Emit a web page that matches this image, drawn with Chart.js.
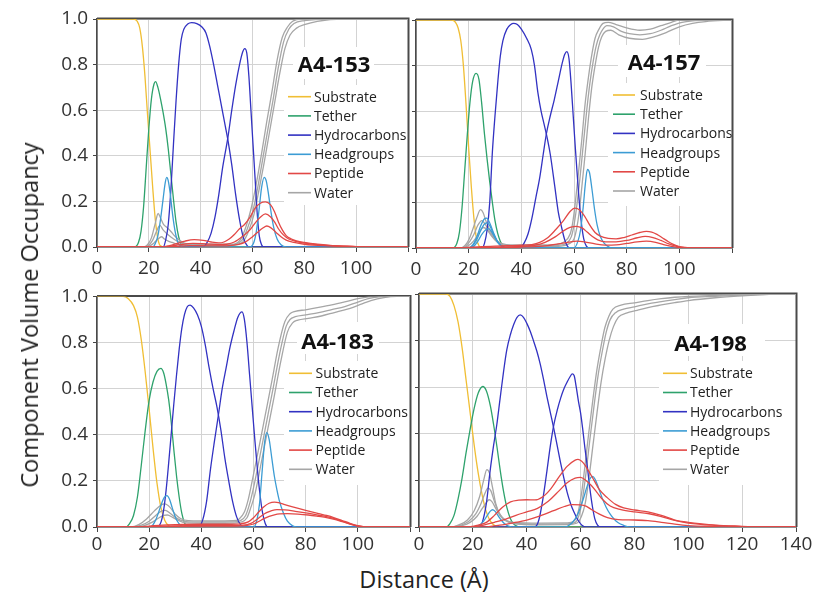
<!DOCTYPE html>
<html>
<head>
<meta charset="utf-8">
<script src="https://cdn.jsdelivr.net/npm/chart.js@4.4.1/dist/chart.umd.min.js"></script>
<style>
  body { margin: 0; width: 816px; height: 595px; background: #fff; position: relative; overflow: hidden; font-family: "Open Sans", sans-serif; }
  canvas { position: absolute; }
  .ytitle { position: absolute; left: 29px; top: 315px; transform: translate(-50%, -50%) rotate(-90deg); font-size: 23.5px; white-space: nowrap; color: #222; }
  .xtitle { position: absolute; left: 424px; top: 579px; transform: translate(-50%, -50%); font-size: 23.5px; white-space: nowrap; color: #222; }
</style>
</head>
<body>
<canvas id="c153" width="413" height="280" style="left:0;top:0"></canvas>
<canvas id="c157" width="416" height="280" style="left:400px;top:0"></canvas>
<canvas id="c183" width="413" height="280" style="left:0;top:280px"></canvas>
<canvas id="c198" width="416" height="280" style="left:400px;top:280px"></canvas>
<div class="ytitle">Component Volume Occupancy</div>
<div class="xtitle">Distance (Å)</div>
<script>
// ---- labels ----
const componentNames = ['Substrate', 'Tether', 'Hydrocarbons', 'Headgroups', 'Peptide', 'Water'];
const sampleNames = ['A4-153', 'A4-157', 'A4-183', 'A4-198'];
const yTickValues = [0, 0.2, 0.4, 0.6, 0.8, 1.0];
const xTickStep = 20;

// ---- A4-153 profiles: [distance (Å), volume occupancy] ----
const s153Substrate = [[0,1],[14,1],[15.5,0.99],[16.5,0.96],[17.5,0.88],[18.5,0.75],[19.5,0.58],[20.5,0.42],[21.5,0.26],[22.5,0.12],[23.5,0.035],[24.5,0.005],[26,0],[120,0]];
const s153Tether = [[0,0],[14.5,0],[16,0.02],[17,0.07],[18,0.18],[19,0.35],[20,0.52],[21,0.65],[22,0.715],[22.6,0.725],[23.5,0.7],[24.5,0.65],[25.5,0.59],[26.5,0.52],[27.5,0.43],[28.5,0.32],[29.5,0.21],[30.5,0.11],[31.5,0.045],[32.5,0.012],[33.5,0],[120,0]];
const s153HydroInner = [[0,0],[25.5,0],[26.5,0.03],[27.5,0.1],[28.5,0.25],[29.5,0.45],[30.5,0.64],[31.5,0.8],[32.5,0.91],[33.5,0.955],[35,0.978],[36.5,0.984],[38.5,0.98],[40.5,0.965],[42,0.94],[43.5,0.88],[45,0.8],[46.5,0.71],[48,0.62],[49.5,0.53],[50.5,0.47],[52,0.36],[53.5,0.23],[55,0.12],[56.5,0.04],[58,0.005],[59,0],[120,0]];
const s153HydroOuter = [[0,0],[41,0],[42.5,0.02],[44,0.06],[45.5,0.13],[47,0.23],[48.5,0.35],[50.5,0.48],[52,0.6],[53.5,0.71],[55,0.8],[56.2,0.855],[57,0.87],[57.8,0.85],[58.6,0.75],[59.4,0.6],[60.2,0.45],[61,0.3],[61.8,0.15],[62.6,0.05],[63.5,0.01],[64.5,0],[120,0]];
const s153Headgroups = [[0,0],[21.5,0],[22.5,0.015],[23.5,0.05],[24.5,0.12],[25.5,0.21],[26.3,0.28],[26.9,0.305],[27.5,0.29],[28.3,0.23],[29.2,0.14],[30.2,0.065],[31.2,0.02],[32.5,0.003],[33.5,0],[59,0],[60.5,0.02],[61.5,0.07],[62.5,0.16],[63.5,0.26],[64.5,0.305],[65.3,0.29],[66.2,0.23],[67.2,0.15],[68.2,0.085],[69.5,0.035],[71,0.01],[73,0],[120,0]];
const s153PeptideHigh = [[0,0],[25,0],[28,0.006],[31,0.016],[34,0.026],[37.5,0.032],[41,0.029],[44,0.022],[47,0.018],[49,0.022],[51,0.035],[53,0.055],[55,0.08],[57,0.1],[59,0.13],[61,0.17],[63,0.192],[65,0.198],[67,0.185],[68.5,0.155],[70,0.11],[71.5,0.075],[73,0.05],[75,0.035],[77,0.027],[80,0.02],[85,0.012],[90,0.007],[95,0.004],[100,0.002],[105,0],[120,0]];
const s153PeptideMid = [[0,0],[25,0],[28,0.003],[32,0.01],[37,0.016],[42,0.014],[47,0.01],[50,0.012],[53,0.022],[56,0.045],[59,0.075],[61,0.105],[63,0.13],[65,0.145],[67,0.132],[68.5,0.11],[70,0.08],[72,0.052],[74,0.035],[77,0.024],[80,0.017],[85,0.01],[90,0.006],[100,0.002],[105,0],[120,0]];
const s153PeptideLow = [[0,0],[26,0],[30,0.002],[36,0.006],[44,0.005],[50,0.005],[54,0.01],[57,0.02],[60,0.045],[62,0.065],[64,0.083],[65.5,0.092],[67,0.085],[69,0.065],[71,0.045],[73,0.03],[76,0.02],[80,0.012],[90,0.005],[100,0.001],[105,0],[120,0]];
const s153WaterHigh = [[0,0],[18,0],[19.5,0.01],[21,0.04],[22.5,0.105],[23.6,0.147],[24.6,0.125],[25.6,0.1],[27,0.085],[28.5,0.068],[30,0.048],[32,0.028],[34,0.016],[38,0.012],[52,0.012],[55.5,0.035],[57.5,0.09],[59.5,0.17],[61.5,0.28],[63.5,0.41],[65.5,0.55],[67.5,0.68],[69.5,0.82],[71.5,0.92],[73.5,0.965],[75.5,0.99],[79,1],[120,1]];
const s153WaterMid = [[0,0],[18.5,0],[20,0.008],[21.5,0.03],[23,0.07],[24.3,0.095],[25.5,0.075],[27,0.058],[28.5,0.044],[30,0.032],[32,0.02],[34,0.012],[38,0.009],[52,0.009],[54,0.015],[56,0.03],[58,0.08],[60,0.15],[62,0.26],[64,0.39],[66,0.52],[68,0.65],[70,0.79],[72,0.9],[74,0.955],[76,0.98],[80,0.993],[90,1],[120,1]];
const s153WaterLow = [[0,0],[19,0],[20.5,0.006],[22,0.018],[23.5,0.035],[24.9,0.045],[26,0.035],[27.5,0.026],[29,0.02],[31,0.012],[34,0.007],[52,0.006],[54.5,0.012],[56.5,0.025],[58.5,0.07],[60.5,0.14],[62.5,0.25],[64.5,0.37],[66.5,0.5],[68.5,0.63],[70.5,0.76],[72.5,0.87],[74.5,0.93],[77,0.96],[80,0.975],[85,0.99],[95,1],[120,1]];

// ---- A4-157 profiles ----
const s157Substrate = [[0,1],[13.5,1],[15,0.99],[16,0.965],[17,0.91],[18,0.8],[19,0.63],[20,0.44],[21,0.27],[22,0.13],[23,0.04],[24,0.008],[25,0],[120,0]];
const s157Tether = [[0,0],[14,0],[15.5,0.02],[16.5,0.07],[17.5,0.18],[18.5,0.34],[19.5,0.5],[20.5,0.64],[21.5,0.73],[22.8,0.766],[23.9,0.74],[24.9,0.64],[26,0.5],[27,0.39],[28,0.29],[29,0.2],[30,0.12],[31,0.065],[32,0.03],[33,0.01],[34,0],[120,0]];
const s157HydroInner = [[0,0],[25,0],[26,0.02],[27,0.08],[28,0.2],[29,0.42],[30,0.58],[31,0.72],[32,0.84],[33,0.91],[34.5,0.96],[36,0.98],[37,0.985],[38.5,0.98],[40,0.96],[42,0.92],[43.8,0.87],[45,0.8],[46.3,0.68],[47.5,0.6],[48.5,0.55],[49.5,0.5],[51,0.41],[52.7,0.27],[54,0.16],[55.2,0.095],[56.5,0.035],[57.5,0.008],[58.5,0],[120,0]];
const s157HydroOuter = [[0,0],[39.5,0],[41,0.02],[42.5,0.06],[44,0.13],[45.5,0.22],[47,0.31],[48.3,0.41],[49.5,0.5],[51,0.58],[52.5,0.65],[54,0.73],[55.5,0.81],[56.5,0.85],[57.3,0.861],[58.1,0.83],[58.9,0.72],[59.7,0.58],[60.5,0.44],[61.3,0.31],[62.1,0.19],[62.9,0.1],[63.7,0.04],[64.7,0.008],[66,0],[120,0]];
const s157HeadgroupsHigh = [[0,0],[20,0],[21.5,0.012],[23,0.045],[24.5,0.095],[26,0.128],[26.8,0.131],[28,0.11],[29.5,0.065],[31,0.028],[32.5,0.008],[34,0],[120,0]];
const s157Headgroups = [[0,0],[20,0],[21.5,0.01],[23,0.035],[24.5,0.075],[26,0.105],[27,0.11],[28,0.098],[29.5,0.06],[31,0.025],[32.5,0.008],[34,0],[60,0],[61.5,0.03],[62.5,0.08],[63.5,0.18],[64.3,0.28],[65.1,0.345],[65.9,0.33],[66.8,0.26],[67.8,0.17],[68.8,0.1],[70,0.05],[71.5,0.02],[73.5,0.003],[75,0],[120,0]];
const s157HeadgroupsLow = [[0,0],[20.5,0],[22,0.008],[23.5,0.03],[25,0.06],[26.5,0.08],[27.5,0.085],[28.5,0.075],[30,0.045],[31.5,0.02],[33,0.005],[34.5,0],[120,0]];
const s157PeptideHigh = [[0,0],[15,0],[20,0.003],[25,0.006],[30,0.008],[35,0.01],[40,0.012],[44,0.015],[47,0.025],[50,0.045],[53,0.08],[56,0.12],[58.5,0.16],[60.3,0.175],[62,0.168],[64,0.14],[66,0.1],[68,0.068],[70,0.052],[73,0.042],[76,0.04],[79,0.046],[82,0.057],[85,0.068],[87.5,0.073],[89.5,0.07],[91.5,0.06],[93.5,0.045],[95.5,0.03],[97.5,0.017],[100,0.006],[103,0.002],[106,0],[120,0]];
const s157PeptideMid = [[0,0],[20,0],[30,0.004],[40,0.007],[45,0.012],[49,0.025],[53,0.05],[56,0.075],[58.5,0.09],[61,0.095],[63,0.088],[65,0.07],[67,0.05],[69,0.036],[72,0.027],[76,0.027],[80,0.033],[84,0.045],[87,0.051],[90,0.046],[93,0.033],[96,0.018],[99,0.007],[102,0.002],[105,0],[120,0]];
const s157PeptideLow = [[0,0],[20,0],[30,0.002],[40,0.004],[48,0.008],[54,0.018],[58,0.026],[61,0.03],[64,0.027],[68,0.018],[72,0.013],[76,0.014],[80,0.02],[84,0.027],[87.5,0.03],[91,0.025],[94,0.015],[97,0.007],[100,0.002],[103,0],[120,0]];
const s157WaterHigh = [[0,0],[17,0],[18.5,0.01],[20,0.035],[21.5,0.08],[23,0.13],[24.5,0.168],[25.5,0.155],[26.5,0.12],[28,0.08],[29.5,0.05],[31,0.03],[33,0.018],[36,0.014],[50,0.014],[53,0.015],[56,0.025],[58.5,0.06],[59.5,0.11],[60.5,0.2],[61.7,0.33],[63,0.48],[64.2,0.63],[65.5,0.75],[66.8,0.85],[68,0.92],[69.5,0.96],[71,0.985],[73,0.99],[76,0.98],[80,0.965],[85,0.955],[89,0.96],[93,0.975],[97,0.99],[100,1],[120,1]];
const s157WaterMid = [[0,0],[17.5,0],[19,0.01],[20.5,0.03],[22,0.06],[23.5,0.1],[25,0.12],[26.5,0.1],[28,0.07],[29.5,0.045],[31,0.025],[33,0.013],[36,0.01],[50,0.01],[54,0.012],[57,0.02],[59,0.05],[60,0.1],[61,0.18],[62.2,0.3],[63.5,0.45],[64.8,0.6],[66,0.72],[67.3,0.82],[68.5,0.89],[69.8,0.935],[71,0.96],[72.5,0.975],[75,0.97],[78,0.95],[81,0.94],[85,0.935],[89,0.94],[93,0.955],[97,0.975],[101,0.99],[106,0.997],[110,1],[120,1]];
const s157WaterLow = [[0,0],[18,0],[19.5,0.008],[21,0.02],[22.5,0.04],[24,0.07],[25.5,0.09],[27,0.08],[28.5,0.055],[30,0.035],[32,0.018],[35,0.008],[50,0.006],[55,0.008],[58,0.018],[60,0.04],[61,0.085],[62,0.16],[63,0.27],[64.3,0.42],[65.5,0.57],[66.7,0.7],[68,0.8],[69.3,0.88],[70.5,0.925],[72,0.95],[74,0.955],[77,0.935],[81,0.92],[86,0.915],[90,0.925],[95,0.945],[100,0.97],[105,0.985],[110,0.993],[120,1]];

// ---- A4-183 profiles ----
const s183Substrate = [[0,1],[10,1],[12,0.99],[14,0.96],[15.5,0.91],[17,0.81],[18.5,0.67],[20,0.51],[21.5,0.34],[23,0.19],[24.5,0.085],[26,0.028],[27.5,0.005],[29,0],[120,0]];
const s183Tether = [[0,0],[11,0],[12.5,0.015],[14,0.05],[15.5,0.13],[17,0.27],[18.5,0.42],[20,0.55],[21.5,0.63],[23,0.675],[24.5,0.688],[25.5,0.67],[26.5,0.62],[27.5,0.55],[28.5,0.45],[29.5,0.33],[30.5,0.22],[31.5,0.13],[32.5,0.06],[33.5,0.02],[35,0],[120,0]];
const s183HydroInner = [[0,0],[23,0],[24.5,0.02],[25.5,0.07],[26.5,0.16],[27.5,0.28],[28.5,0.41],[29.5,0.54],[30.5,0.66],[31.5,0.77],[32.5,0.86],[33.5,0.92],[34.6,0.955],[35.7,0.962],[37,0.95],[38.5,0.92],[40,0.87],[41.5,0.79],[43,0.69],[44.5,0.6],[46,0.52],[47.5,0.42],[49,0.3],[50.5,0.2],[52,0.11],[53.5,0.045],[55,0.01],[56.5,0],[120,0]];
const s183HydroOuter = [[0,0],[39,0],[40.5,0.03],[42,0.11],[43.5,0.25],[45,0.37],[46.6,0.49],[48,0.6],[49.5,0.69],[51,0.78],[52.5,0.85],[54,0.91],[55.6,0.933],[56.5,0.9],[57.5,0.8],[58.5,0.66],[59.5,0.52],[60.5,0.38],[61.5,0.25],[62.5,0.14],[63.5,0.06],[64.5,0.015],[65.5,0],[120,0]];
const s183Headgroups = [[0,0],[20.5,0],[21.5,0.01],[22.5,0.03],[23.5,0.06],[24.7,0.1],[25.8,0.128],[26.8,0.136],[27.8,0.12],[28.8,0.085],[29.8,0.05],[30.8,0.025],[32,0.008],[33.5,0],[60,0],[61.3,0.03],[62.3,0.1],[63.3,0.24],[64.3,0.37],[65.1,0.409],[66,0.38],[67,0.3],[68,0.22],[69,0.16],[70,0.11],[71.5,0.06],[73,0.025],[75,0.005],[76.5,0],[120,0]];
const s183PeptideHigh = [[0,0],[16,0],[20,0.004],[25,0.008],[30,0.01],[40,0.012],[50,0.012],[55,0.014],[58,0.022],[60,0.04],[62,0.065],[64,0.088],[66,0.103],[68,0.108],[70,0.105],[72,0.097],[75,0.087],[80,0.072],[85,0.058],[88,0.05],[91,0.04],[94,0.028],[97,0.016],[99.5,0.007],[102,0.002],[104,0],[120,0]];
const s183PeptideMid = [[0,0],[18,0],[25,0.004],[35,0.006],[50,0.006],[56,0.008],[59,0.016],[61,0.03],[63,0.048],[65,0.062],[67,0.071],[69,0.075],[72,0.074],[76,0.068],[80,0.061],[85,0.051],[88,0.045],[91,0.036],[94,0.025],[97,0.014],[99.5,0.006],[102,0.001],[104,0],[120,0]];
const s183PeptideLow = [[0,0],[20,0],[30,0.003],[50,0.004],[57,0.006],[60,0.013],[62,0.024],[64,0.036],[66,0.046],[68,0.053],[70,0.057],[73,0.058],[77,0.056],[81,0.052],[85,0.046],[88,0.041],[91,0.033],[94,0.023],[97,0.013],[99.5,0.005],[102,0.001],[104,0],[120,0]];
const s183WaterHigh = [[0,0],[13,0],[16,0.01],[19,0.035],[22,0.07],[24.5,0.095],[26,0.1],[28,0.085],[30,0.055],[32,0.037],[35,0.028],[45,0.026],[52,0.027],[54.5,0.035],[56.5,0.065],[58,0.12],[59.5,0.2],[62,0.34],[64.5,0.485],[67,0.63],[69.5,0.78],[72,0.89],[74,0.925],[76,0.935],[80,0.942],[85,0.952],[90,0.963],[95,0.976],[100,0.99],[104,0.998],[108,1],[120,1]];
const s183WaterMid = [[0,0],[14,0],[17,0.008],[20,0.025],[22.5,0.05],[24.5,0.068],[26.2,0.072],[28,0.06],[30,0.042],[32,0.03],[35,0.022],[45,0.021],[52,0.022],[55,0.028],[57,0.05],[58.5,0.1],[60,0.17],[62.5,0.31],[65,0.455],[67.5,0.6],[70,0.75],[72.5,0.87],[74,0.9],[76,0.912],[80,0.92],[85,0.93],[90,0.943],[95,0.956],[100,0.975],[104,0.99],[108,0.998],[112,1],[120,1]];
const s183WaterLow = [[0,0],[15,0],[18,0.006],[21,0.02],[23.5,0.038],[25.5,0.05],[27,0.052],[29,0.042],[31,0.03],[34,0.018],[45,0.016],[52,0.017],[55.5,0.022],[57.5,0.04],[59,0.085],[60.5,0.14],[63,0.28],[65.5,0.425],[68,0.57],[70.5,0.72],[73,0.845],[75,0.885],[77,0.897],[81,0.905],[86,0.915],[91,0.93],[96,0.945],[101,0.965],[105,0.982],[110,0.995],[115,1],[120,1]];

// ---- A4-198 profiles ----
const s198Substrate = [[0,1],[10,1],[11.5,0.99],[13,0.95],[14.5,0.88],[16,0.77],[17.5,0.63],[19,0.49],[20.5,0.35],[22,0.23],[23.5,0.135],[25,0.065],[26.5,0.025],[28,0.007],[30,0],[140,0]];
const s198Tether = [[0,0],[10,0],[11.5,0.015],[13,0.05],[14.5,0.12],[16,0.21],[17.5,0.32],[19,0.42],[20.5,0.51],[22,0.575],[23.7,0.603],[25,0.585],[26.5,0.52],[27.7,0.44],[29,0.34],[30.2,0.24],[31.4,0.153],[32.6,0.085],[33.8,0.04],[35,0.015],[36.5,0.003],[38,0],[140,0]];
const s198HydroInner = [[0,0],[22,0],[23.5,0.02],[25,0.1],[26.4,0.24],[27.7,0.35],[28.9,0.44],[30.1,0.55],[31.4,0.667],[32.6,0.76],[33.9,0.824],[35.2,0.87],[36.4,0.9],[37.6,0.91],[38.8,0.9],[40,0.875],[41.3,0.84],[42.5,0.8],[43.8,0.753],[45,0.7],[46.3,0.63],[47.5,0.56],[48.8,0.49],[50.1,0.42],[51.3,0.35],[52.5,0.28],[53.8,0.21],[55,0.15],[56.3,0.1],[57.5,0.065],[59,0.03],[60.5,0.008],[62,0],[140,0]];
const s198HydroOuter = [[0,0],[43,0],[44.5,0.03],[46,0.12],[47.5,0.24],[48.8,0.35],[50.1,0.44],[51.3,0.5],[52.6,0.553],[53.9,0.595],[55.1,0.624],[56.2,0.647],[56.9,0.657],[57.6,0.65],[58.4,0.6],[59.2,0.54],[60,0.49],[60.8,0.42],[61.6,0.34],[62.5,0.26],[63.4,0.17],[64.4,0.088],[65.3,0.035],[66.3,0.008],[67.5,0],[140,0]];
const s198Headgroups = [[0,0],[21,0],[22.5,0.008],[24,0.025],[25.5,0.052],[26.5,0.068],[27.3,0.074],[28.2,0.068],[29.3,0.05],[30.5,0.03],[31.8,0.014],[33,0.005],[34.5,0],[54,0],[56,0.01],[58,0.035],[59.5,0.07],[61,0.12],[62.3,0.17],[63.4,0.205],[64.4,0.217],[65.4,0.205],[66.6,0.17],[68,0.125],[69.5,0.085],[71,0.055],[72.5,0.033],[74,0.018],[76,0.007],[78,0],[140,0]];
const s198PeptideHigh = [[0,0],[18,0],[20,0.003],[22,0.008],[25,0.02],[28,0.05],[31,0.085],[34,0.108],[37,0.115],[40,0.117],[43,0.116],[46,0.13],[49,0.165],[52,0.215],[55,0.26],[58,0.287],[59,0.29],[61,0.275],[63,0.24],[65,0.2],[67,0.16],[70,0.125],[73,0.097],[76,0.082],[80,0.073],[85,0.065],[90,0.05],[95,0.03],[100,0.02],[105,0.013],[110,0.008],[120,0.003],[127,0],[140,0]];
const s198PeptideMid = [[0,0],[20,0],[24,0.008],[28,0.02],[32,0.033],[36,0.05],[40,0.065],[44,0.08],[48,0.11],[52,0.155],[55,0.19],[58,0.21],[60,0.213],[62,0.2],[64,0.178],[66,0.15],[68,0.12],[71,0.09],[75,0.075],[80,0.065],[85,0.058],[90,0.045],[95,0.028],[100,0.017],[110,0.007],[120,0.002],[126,0],[140,0]];
const s198PeptideLow = [[0,0],[24,0],[30,0.008],[35,0.018],[40,0.03],[45,0.048],[50,0.07],[54,0.088],[57,0.096],[60,0.095],[62,0.09],[64,0.075],[67,0.055],[70,0.04],[74,0.032],[80,0.03],[85,0.027],[90,0.02],[95,0.012],[100,0.006],[110,0.002],[120,0],[140,0]];
const s198WaterHigh = [[0,0],[12,0],[15,0.01],[18,0.03],[20.5,0.07],[22.5,0.13],[24,0.2],[25.2,0.246],[26.2,0.23],[27.3,0.17],[28.5,0.1],[30,0.055],[32,0.03],[35,0.02],[45,0.017],[55,0.018],[57.5,0.025],[59,0.06],[60.3,0.14],[61.5,0.25],[63,0.4],[64.5,0.54],[66,0.67],[67.5,0.77],[69,0.855],[70.5,0.905],[72,0.935],[75,0.952],[80,0.962],[85,0.972],[90,0.98],[95,0.986],[100,0.99],[110,0.994],[120,0.997],[130,1],[140,1]];
const s198WaterMid = [[0,0],[12.5,0],[15.5,0.008],[18.5,0.025],[21,0.055],[23,0.1],[24.5,0.145],[25.6,0.167],[26.7,0.155],[28,0.11],[29.5,0.065],[31,0.04],[33,0.025],[36,0.015],[45,0.012],[55,0.013],[58,0.02],[59.4,0.05],[60.7,0.12],[62,0.23],[63.5,0.38],[65,0.52],[66.5,0.65],[68,0.75],[69.5,0.835],[71,0.89],[73,0.92],[76,0.935],[80,0.945],[85,0.958],[90,0.967],[95,0.976],[100,0.984],[110,0.99],[120,0.995],[130,0.999],[140,1]];
const s198WaterLow = [[0,0],[13,0],[16,0.006],[19,0.02],[21.5,0.045],[23.5,0.08],[25,0.105],[26,0.117],[27,0.11],[28.5,0.08],[30,0.05],[32,0.028],[35,0.015],[45,0.009],[55,0.01],[58.5,0.016],[60.3,0.045],[61.7,0.1],[63,0.2],[64.6,0.35],[66.1,0.49],[67.6,0.62],[69.1,0.72],[70.6,0.8],[72.2,0.86],[74,0.9],[77,0.918],[81,0.93],[85,0.942],[90,0.953],[95,0.963],[100,0.972],[110,0.984],[120,0.992],[130,0.998],[140,1]];

// ---- drawing styles ----
const componentColors = ['#F0BE34', '#2EA26C', '#3232C2', '#3C9CD4', '#E24846', '#A6A6A6'];
const FONT = '"Open Sans", "Noto Sans", sans-serif';

function series(points, comp) {
  return { data: points, borderColor: componentColors[comp], borderWidth: 1.3, pointRadius: 0, fill: false };
}

// sample name and component key drawn inside the plot, on a white ground
const keyPlugin = {
  id: 'panelKey',
  beforeDatasetsDraw(chart, args, o) {
    const c = chart.ctx;
    c.save();
    c.fillStyle = '#fff';
    o.boxes.forEach(b => c.fillRect(b[0], b[1], b[2], b[3]));
    c.fillStyle = '#111';
    c.font = 'bold 22px ' + FONT;
    c.textAlign = 'center';
    c.textBaseline = 'alphabetic';
    c.fillText(o.name, o.titleX, o.titleY);
    c.font = '14px ' + FONT;
    c.textAlign = 'left';
    c.textBaseline = 'middle';
    componentNames.forEach((n, i) => {
      const y = o.rowY + i * o.rowGap;
      c.strokeStyle = componentColors[i];
      c.lineWidth = 1.6;
      c.beginPath();
      c.moveTo(o.lineX0, y);
      c.lineTo(o.lineX1, y);
      c.stroke();
      c.fillStyle = '#222';
      c.fillText(n, o.textX, y + 1);
    });
    c.restore();
  }
};

// frame: top and right edges of each plot
const framePlugin = {
  id: 'plotFrame',
  beforeDatasetsDraw(chart) {
    const { ctx, chartArea: a } = chart;
    ctx.save();
    ctx.strokeStyle = '#4a4a4a';
    ctx.lineWidth = 2;
    ctx.beginPath();
    ctx.moveTo(a.left, a.top - 0.5);
    ctx.lineTo(a.right + 0.5, a.top - 0.5);
    ctx.lineTo(a.right + 0.5, a.bottom);
    ctx.stroke();
    ctx.restore();
  }
};

function makePanel(id, sets, p) {
  new Chart(document.getElementById(id), {
    type: 'line',
    data: { datasets: sets },
    options: {
      responsive: false,
      animation: false,
      events: [],
      layout: { padding: { left: 0, right: p.padRight, top: p.padTop, bottom: 0 } },
      elements: { line: { cubicInterpolationMode: 'monotone' }, point: { radius: 0 } },
      plugins: { legend: { display: false }, tooltip: { enabled: false }, panelKey: p.key },
      scales: {
        x: {
          type: 'linear', min: 0, max: p.xMax,
          afterBuildTicks: s => { s.ticks = []; for (let v = 0; v <= p.xMax; v += xTickStep) s.ticks.push({ value: v }); },
          ticks: { autoSkip: false, maxRotation: 0, padding: p.xPad, color: '#333', font: { family: FONT, size: 19 },
                   callback: v => (v <= p.xLabelMax ? String(v) : '') },
          grid: { color: '#d3d3d3', lineWidth: 1, tickColor: '#444', tickLength: 5 },
          border: { color: '#4a4a4a', width: 1.6 },
          afterFit: s => { s.height = p.xAxisH; }
        },
        y: {
          type: 'linear', min: 0, max: 1,
          afterBuildTicks: s => { s.ticks = yTickValues.map(v => ({ value: v })); },
          ticks: { display: p.yLabels, padding: 5, color: '#333', font: { family: FONT, size: 19 },
                   callback: v => v.toFixed(1) },
          grid: { color: '#d3d3d3', lineWidth: 1, tickColor: '#444', tickLength: 4 },
          border: { color: '#4a4a4a', width: 1.6 },
          afterFit: s => { s.width = p.yAxisW; }
        }
      }
    },
    plugins: [keyPlugin, framePlugin]
  });
}

// Substrate 0, Tether 1, Hydrocarbons 2, Headgroups 3, Peptide 4, Water 5
makePanel('c153', [
  series(s153PeptideHigh, 4), series(s153PeptideMid, 4), series(s153PeptideLow, 4),
  series(s153Headgroups, 3),
  series(s153HydroInner, 2), series(s153HydroOuter, 2),
  series(s153WaterHigh, 5), series(s153WaterMid, 5), series(s153WaterLow, 5),
  series(s153Tether, 1), series(s153Substrate, 0)
], { xMax: 120, xLabelMax: 100, yLabels: true, yAxisW: 97, xAxisH: 33, padTop: 19, padRight: 3, xPad: 5,
     key: { name: sampleNames[0], titleX: 334, titleY: 72, boxes: [[293, 47, 81, 32], [284, 85, 126, 120]],
            lineX0: 288, lineX1: 311, textX: 314, rowY: 96.7, rowGap: 19.2 } });

makePanel('c157', [
  series(s157PeptideHigh, 4), series(s157PeptideMid, 4), series(s157PeptideLow, 4),
  series(s157HeadgroupsHigh, 3), series(s157Headgroups, 3), series(s157HeadgroupsLow, 3),
  series(s157HydroInner, 2), series(s157HydroOuter, 2),
  series(s157WaterHigh, 5), series(s157WaterMid, 5), series(s157WaterLow, 5),
  series(s157Tether, 1), series(s157Substrate, 0)
], { xMax: 120, xLabelMax: 100, yLabels: false, yAxisW: 16, xAxisH: 32, padTop: 20, padRight: 84, xPad: 5,
     key: { name: sampleNames[1], titleX: 264, titleY: 69.5, boxes: [[218, 45, 88, 32], [208, 83, 124, 123]],
            lineX0: 213, lineX1: 235, textX: 240, rowY: 95, rowGap: 19.2 } });

makePanel('c183', [
  series(s183PeptideHigh, 4), series(s183PeptideMid, 4), series(s183PeptideLow, 4),
  series(s183Headgroups, 3),
  series(s183HydroInner, 2), series(s183HydroOuter, 2),
  series(s183WaterHigh, 5), series(s183WaterMid, 5), series(s183WaterLow, 5),
  series(s183Tether, 1), series(s183Substrate, 0)
], { xMax: 120, xLabelMax: 100, yLabels: true, yAxisW: 97, xAxisH: 33, padTop: 14, padRight: 3, xPad: 1,
     key: { name: sampleNames[2], titleX: 337.5, titleY: 68.5, boxes: [[297, 42, 82, 32], [284, 81, 126, 124]],
            lineX0: 289, lineX1: 312, textX: 315.5, rowY: 93.3, rowGap: 19.2 } });

makePanel('c198', [
  series(s198PeptideHigh, 4), series(s198PeptideMid, 4), series(s198PeptideLow, 4),
  series(s198Headgroups, 3),
  series(s198HydroInner, 2), series(s198HydroOuter, 2),
  series(s198WaterHigh, 5), series(s198WaterMid, 5), series(s198WaterLow, 5),
  series(s198Tether, 1), series(s198Substrate, 0)
], { xMax: 140, xLabelMax: 140, yLabels: false, yAxisW: 19, xAxisH: 33, padTop: 14, padRight: 20, xPad: 1,
     key: { name: sampleNames[3], titleX: 310.5, titleY: 71, boxes: [[270, 44, 95, 32], [259, 81, 137, 124]],
            lineX0: 263, lineX1: 287, textX: 290, rowY: 93.3, rowGap: 19.2 } });
</script>
</body>
</html>
